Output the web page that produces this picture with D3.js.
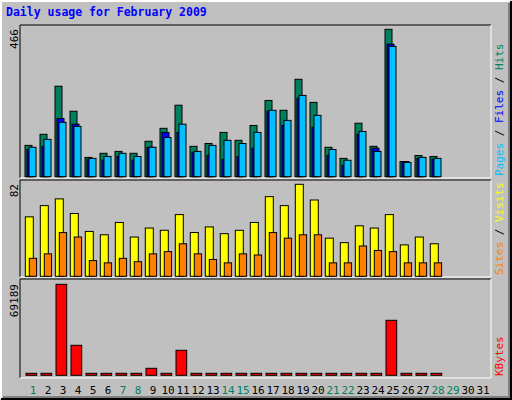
<!DOCTYPE html>
<html><head><meta charset="utf-8">
<script src="https://cdn.jsdelivr.net/npm/d3@7"></script>
<style>body{margin:0;background:#fff}</style>
</head><body><div id="chart"></div>
<script>
const days = d3.range(1, 32);
const weekend = [1, 7, 8, 14, 15, 21, 22, 28, 29];
const hits  = [99,134,286,207,61,74,80,74,112,153,226,96,105,140,115,162,241,210,308,235,93,58,169,96,466,48,67,64];
const files = [86,96,184,166,55,52,64,52,93,140,140,77,67,55,64,90,207,162,248,156,67,36,134,90,419,48,58,55];
const pages = [93,118,172,159,58,64,74,64,93,124,166,80,99,115,105,140,210,178,257,194,86,52,143,80,412,45,61,58];
const visits = [53,63,69,56,40,37,48,35,43,41,55,39,44,38,41,48,71,63,82,68,34,30,45,43,55,28,35,29];
const sites  = [16,20,39,35,14,12,16,13,20,22,29,20,15,12,20,19,39,34,37,37,12,12,27,23,22,12,12,12];
const kbytes = [0,0,69189,22810,0,0,0,0,5322,1520,19008,0,0,0,0,1500,1500,0,1500,1500,0,0,0,1500,41818,0,0,1500];

const w = 512, h = 400;
const svg = d3.select("#chart").append("svg").attr("width", w).attr("height", h);
svg.append("rect").attr("width", w).attr("height", h).attr("fill", "#c0c0c0");
// bevelled frame
svg.append("path").attr("d", "M1,399V1H511").attr("stroke", "#fff").attr("stroke-width", 2).attr("fill", "none");
svg.append("path").attr("d", "M1,399H511V1").attr("stroke", "#000").attr("stroke-width", 2).attr("fill", "none");
svg.append("path").attr("d", "M3,397H509V3").attr("stroke", "#808080").attr("stroke-width", 2).attr("fill", "none");

svg.append("text").attr("x", 6).attr("y", 16).text("Daily usage for February 2009")
  .attr("font-family", "DejaVu Sans Mono").attr("font-weight", "bold").attr("font-size", 11.5).attr("fill", "#0000ff");

const x = d3.scaleBand().domain(days).range([20, 485]);
const mono = "DejaVu Sans Mono";

function panel(y0, y1) {
  svg.append("rect").attr("x", 20).attr("y", y0).attr("width", 471).attr("height", y1 - y0).attr("fill", "#c0c0c0");
  svg.append("path").attr("d", `M20,${y1}V${y0}H491`).attr("stroke", "#000").attr("fill", "none");
  svg.append("path").attr("d", `M20,${y1}H491V${y0}`).attr("stroke", "#fff").attr("fill", "none");
}
function bars(data, y, off, bw, color) {
  svg.append("g").selectAll("rect").data(data).enter().append("rect")
    .attr("x", (d, i) => x(days[i]) + off)
    .attr("y", d => Math.min(y(d), y(0) - 2))
    .attr("width", bw)
    .attr("height", d => Math.max(2, y(0) - y(d)))
    .attr("fill", color).attr("stroke", "#000").attr("stroke-width", 1);
}
function leftLabel(txt, y) {
  svg.append("text").attr("transform", `translate(18,${y}) rotate(-90)`).attr("text-anchor", "end")
    .attr("font-family", mono).attr("font-size", 11).text(txt);
}
function rightLabel(parts, y) {
  const t = svg.append("text").attr("transform", `translate(503,${y}) rotate(-90)`)
    .attr("font-family", mono).attr("font-size", 11);
  parts.forEach(p => t.append("tspan").attr("fill", p[1]).text(p[0]));
}

// top panel
panel(25, 178);
const y1 = d3.scaleLinear().domain([0, 466]).range([176.7, 29.3]);
bars(hits, y1, 5, 7, "#00805c");
bars(files, y1, 7, 7, "#0000ff");
bars(pages, y1, 9, 7, "#00c0ff");
leftLabel("466", 29);
rightLabel([["Pages", "#00c0ff"], [" / ", "#000"], ["Files", "#0000ff"], [" / ", "#000"], ["Hits", "#00805c"]], 176);

// middle panel
panel(180, 277);
const y2 = d3.scaleLinear().domain([0, 82]).range([276.3, 184.3]);
bars(visits, y2, 5.3, 8, "#ffff00");
bars(sites, y2, 9.3, 7.3, "#ff8000");
leftLabel("82", 184);
rightLabel([["Sites", "#ff8000"], [" / ", "#000"], ["Visits", "#ffff00"]], 275);

// bottom panel
panel(279, 378);
const y3 = d3.scaleLinear().domain([0, 69189]).range([375.3, 284.3]);
bars(kbytes, y3, 6, 10.7, "#ff0000");
leftLabel("69189", 284);
rightLabel([["KBytes", "#ff0000"]], 376);

svg.append("g").selectAll("text").data(days).enter().append("text")
  .attr("x", d => x(d) + 13).attr("y", 394).attr("text-anchor", "middle")
  .attr("font-family", mono).attr("font-size", 11)
  .attr("fill", d => weekend.includes(d) ? "#00805c" : "#000").text(d => d);
</script></body></html>
